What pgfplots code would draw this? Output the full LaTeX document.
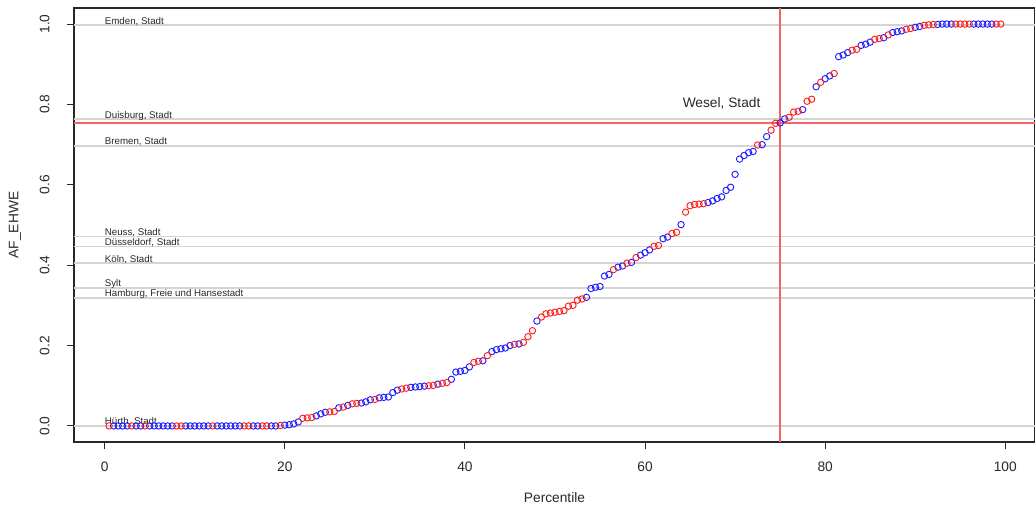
\documentclass[border=0pt]{standalone}
\usepackage{fontspec}
\setmainfont{Liberation Sans}
\usepackage{pgfplots}
\pgfplotsset{compat=1.18}
\definecolor{ptred}{RGB}{255,30,30}
\definecolor{ptblue}{RGB}{30,30,255}
\definecolor{refgray}{RGB}{212,212,212}
\definecolor{selred}{RGB}{245,100,100}
\definecolor{axcol}{RGB}{40,40,40}
\begin{document}
\begin{tikzpicture}
\begin{axis}[
  at={(55.5pt,52.5pt)}, anchor=south west,
  scale only axis, width=720.75pt, height=325.5pt,
  xmin=-3.4, xmax=103.3, ymin=-0.04, ymax=1.04,
  axis line style={line width=0.8pt, axcol},
  tick pos=left, tick align=outside, major tick length=5.25pt,
  tick style={line width=0.75pt, axcol},
  xtick={0,20,40,60,80,100}, xticklabels={0,20,40,60,80,100},
  ytick={0,0.2,0.4,0.6,0.8,1.0}, yticklabels={0.0,0.2,0.4,0.6,0.8,1.0},
  ticklabel style={font=\fontsize{10.3}{12}\selectfont, text=axcol, inner sep=0pt},
  xticklabel style={anchor=north},
  yticklabel style={rotate=90, anchor=south},
  xticklabel shift=9.75pt,
  yticklabel shift=13pt,
  xlabel={Percentile}, ylabel={AF\_EHWE},
  label style={font=\fontsize{10.3}{12}\selectfont, text=axcol},
  xlabel style={at={(axis description cs:0.5,-0.129)}, anchor=center},
  ylabel style={at={(axis description cs:-0.0614,0.5)}, anchor=center},
  clip=true,
]
% reference lines
\addplot[refgray, line width=1.1pt] coordinates {(-3.4,0.9975) (103.3,0.9975)};
\addplot[refgray, line width=1.1pt] coordinates {(-3.4,0.7635) (103.3,0.7635)};
\addplot[refgray, line width=1.1pt] coordinates {(-3.4,0.697) (103.3,0.697)};
\addplot[refgray, line width=1.1pt] coordinates {(-3.4,0.4715) (103.3,0.4715)};
\addplot[refgray, line width=1.1pt] coordinates {(-3.4,0.4467) (103.3,0.4467)};
\addplot[refgray, line width=1.1pt] coordinates {(-3.4,0.4052) (103.3,0.4052)};
\addplot[refgray, line width=1.1pt] coordinates {(-3.4,0.3432) (103.3,0.3432)};
\addplot[refgray, line width=1.1pt] coordinates {(-3.4,0.3184) (103.3,0.3184)};
\addplot[refgray, line width=1.1pt] coordinates {(-3.4,0) (103.3,0)};
% points
\addplot[only marks, mark=o, mark size=2.4pt, ptblue, mark options={line width=0.7pt}] coordinates {
(1.0,0) (1.5,0) (2.0,0) (2.5,0) (3.5,0) (4.0,0) (5.0,0) (5.5,0) (6.0,0) (6.5,0) (7.0,0) (7.5,0) (9.0,0) (9.5,0) (10.0,0) (10.5,0) (11.0,0) (11.5,0) (12.5,0) (13.0,0) (13.5,0) (14.0,0) (14.5,0) (15.0,0) (16.5,0) (17.0,0) (18.5,0) (19.0,0) (20.0,0.002) (20.5,0.003) (21.0,0.005) (21.5,0.010) (23.5,0.025) (24.0,0.030) (24.5,0.034) (26.0,0.045) (27.0,0.051) (28.5,0.057) (29.0,0.060) (29.5,0.065) (30.5,0.070) (31.0,0.071) (31.5,0.072) (32.0,0.083) (32.5,0.089) (34.0,0.096) (34.5,0.097) (35.0,0.098) (35.5,0.099) (37.0,0.104) (38.5,0.116) (39.0,0.134) (39.5,0.136) (40.0,0.138) (40.5,0.147) (42.0,0.162) (43.0,0.185) (43.5,0.190) (44.0,0.192) (44.5,0.194) (45.0,0.200) (46.0,0.204) (48.0,0.261) (53.5,0.320) (54.0,0.342) (54.5,0.345) (55.0,0.347) (55.5,0.373) (56.0,0.377) (57.0,0.395) (57.5,0.398) (58.5,0.407) (59.5,0.425) (60.0,0.431) (60.5,0.438) (62.0,0.466) (62.5,0.470) (64.0,0.501) (67.0,0.556) (67.5,0.560) (68.0,0.566) (68.5,0.570) (69.0,0.586) (69.5,0.594) (70.0,0.626) (70.5,0.664) (71.0,0.673) (71.5,0.680) (72.0,0.683) (73.0,0.700) (73.5,0.720) (75.0,0.754) (75.5,0.764) (77.5,0.787) (79.0,0.844) (80.0,0.864) (80.5,0.871) (81.5,0.919) (82.0,0.923) (82.5,0.929) (84.0,0.947) (84.5,0.950) (85.0,0.955) (86.5,0.966) (87.5,0.979) (88.0,0.981) (88.5,0.983) (90.0,0.992) (90.5,0.994) (92.5,0.999) (93.0,1) (93.5,1) (94.0,1) (96.5,1) (97.0,1) (97.5,1) (98.0,1) (98.5,1)
};
\addplot[only marks, mark=o, mark size=2.4pt, ptred, mark options={line width=0.7pt}] coordinates {
(0.5,0) (3.0,0) (4.5,0) (8.0,0) (8.5,0) (12.0,0) (15.5,0) (16.0,0) (17.5,0) (18.0,0) (19.5,0.001) (22.0,0.019) (22.5,0.020) (23.0,0.021) (25.0,0.035) (25.5,0.036) (26.5,0.047) (27.5,0.055) (28.0,0.056) (30.0,0.066) (33.0,0.092) (33.5,0.094) (36.0,0.100) (36.5,0.101) (37.5,0.106) (38.0,0.108) (41.0,0.158) (41.5,0.161) (42.5,0.175) (45.5,0.203) (46.5,0.208) (47.0,0.222) (47.5,0.237) (48.5,0.271) (49.0,0.279) (49.5,0.281) (50.0,0.283) (50.5,0.285) (51.0,0.287) (51.5,0.298) (52.0,0.300) (52.5,0.313) (53.0,0.316) (56.5,0.389) (58.0,0.405) (59.0,0.419) (61.0,0.447) (61.5,0.449) (63.0,0.479) (63.5,0.482) (64.5,0.532) (65.0,0.548) (65.5,0.551) (66.0,0.552) (66.5,0.553) (72.5,0.699) (74.0,0.736) (74.5,0.753) (76.0,0.768) (76.5,0.781) (77.0,0.783) (78.0,0.808) (78.5,0.813) (79.5,0.855) (81.0,0.877) (83.0,0.935) (83.5,0.937) (85.5,0.962) (86.0,0.964) (87.0,0.973) (89.0,0.987) (89.5,0.989) (91.0,0.997) (91.5,0.998) (92.0,0.999) (94.5,1) (95.0,1) (95.5,1) (96.0,1) (99.0,1) (99.5,1)
};
% selected district
\addplot[selred, line width=1.5pt] coordinates {(-3.4,0.7526) (103.3,0.7526)};
\addplot[selred, line width=1.4pt] coordinates {(75.03,-0.04) (75.03,1.04)};
% labels
\begin{scope}[every node/.style={anchor=base west, inner sep=0pt, yshift=0.8pt, font=\fontsize{7.3}{8}\selectfont, text=axcol}]
\node at (axis cs:0,0.9975) {Emden, Stadt};
\node at (axis cs:0,0.7635) {Duisburg, Stadt};
\node at (axis cs:0,0.697) {Bremen, Stadt};
\node at (axis cs:0,0.4715) {Neuss, Stadt};
\node at (axis cs:0,0.4467) {Düsseldorf, Stadt};
\node at (axis cs:0,0.4052) {Köln, Stadt};
\node at (axis cs:0,0.3432) {Sylt};
\node at (axis cs:0,0.3184) {Hamburg, Freie und Hansestadt};
\node at (axis cs:0,0) {Hürth, Stadt};
\end{scope}
\node[anchor=base, inner sep=0pt, font=\fontsize{10.3}{12}\selectfont, text=axcol] at (axis cs:68.5,0.793) {Wesel, Stadt};
\end{axis}
\pgfresetboundingbox
\path[use as bounding box] (0,0) rectangle (776.25pt,384pt);
\end{tikzpicture}
\end{document}
